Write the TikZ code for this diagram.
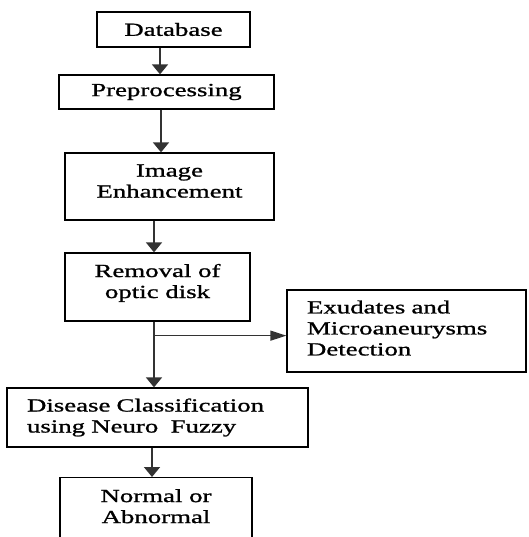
\documentclass[tikz,border=0pt]{standalone}
\usepackage{fontspec}
\setmainfont{Liberation Serif}[FakeStretch=1.45, FakeBold=1.1]
\usetikzlibrary{arrows.meta, positioning, calc}
\newcommand{\lift}[1]{\rule[-#1]{0pt}{0pt}}
\tikzset{
  every picture/.style={font=\fontsize{18.5}{21}\selectfont, line width=1.3pt},
  box/.style={draw=black, fill=white, align=center, inner sep=0pt, minimum width=#1},
  arrow/.style={-{Triangle[length=10pt, width=16pt]}, draw=black!80, line width=1.8pt},
}
\begin{document}
\begin{tikzpicture}[x=1pt, y=-1pt]
  \useasboundingbox (0,0) rectangle (528,537);
  % main column of steps
  \node[box=153pt, minimum height=35pt] (db)  at (173.5,29.5) {Database};
  \node[box=215pt, minimum height=34pt] (pre) at (166.5,92)   {Preprocessing};
  \node[box=209pt, minimum height=67pt] (enh) at (169.5,186.5) {Image\\Enhancement\lift{11pt}};
  \node[box=185pt, minimum height=68pt] (rem) at (157.5,287)  {Removal of\\optic disk\lift{12pt}};
  \node[box=239pt, minimum height=82pt, align=left, text width=199pt] (exu) at (406.5,331)
    {Exudates and\\Microaneurysms\\Detection\lift{6pt}};
  \node[box=301pt, minimum height=59pt, align=left, text width=261pt] (cls) at (157.5,417.5)
    {Disease Classification\\using Neuro\ \ Fuzzy\lift{4pt}};
  \node[box=192pt, minimum height=80pt, anchor=north] (out) at (156,477)
    {Normal or\\Abnormal\lift{23pt}};
  % connectors
  \draw[arrow] ([xshift=-13.5pt]db.south) -- ([xshift=-6.5pt]pre.north);
  \draw[arrow] ([xshift=-5.5pt]pre.south) -- ([xshift=-8.5pt]enh.north);
  \draw[arrow] ([xshift=-15.5pt]enh.south) -- ([xshift=-3.5pt]rem.north);
  \draw[arrow] ([xshift=-3.5pt]rem.south) -- ([xshift=-3.5pt]cls.north);
  \draw[arrow] ([xshift=-5.5pt]cls.south) -- ([xshift=-4pt]out.north);
  \coordinate (br) at ($([xshift=-3.5pt]rem.south)+(0,14)$);
  \draw[arrow, line width=1.3pt, -{Triangle[length=16pt, width=10pt]}] (br) -- (br -| exu.west);
\end{tikzpicture}
\end{document}
